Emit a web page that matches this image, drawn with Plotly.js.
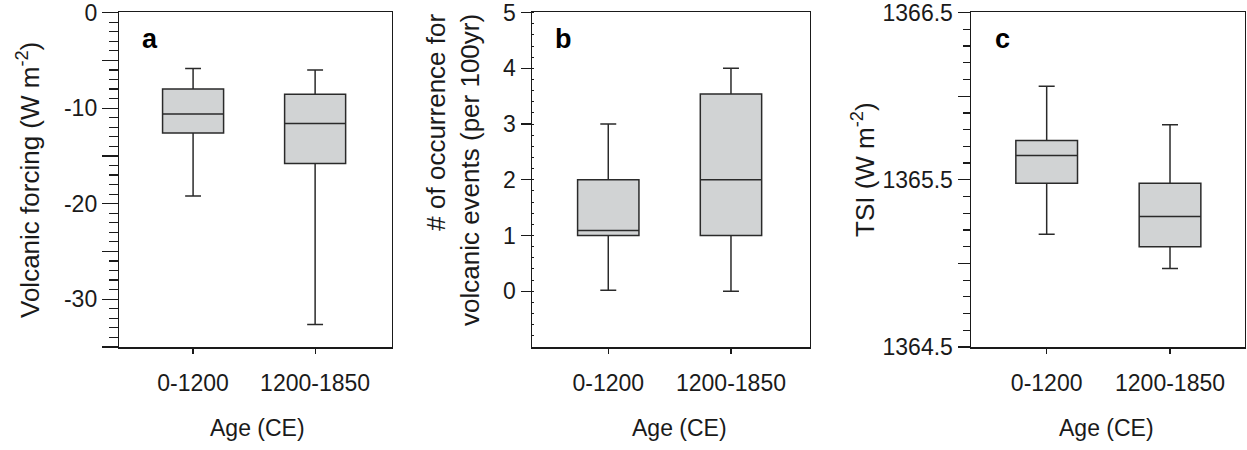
<!DOCTYPE html>
<html>
<head>
<meta charset="utf-8">
<script src="https://cdn.plot.ly/plotly-3.0.1.min.js"></script>
<style>html,body{margin:0;padding:0;background:#fff;}#chart{width:1247px;height:450px;}</style>
</head>
<body>
<div id="chart"></div>
<script>
// ---- data ----
const categories = ['0-1200', '1200-1850'];

// panel a: volcanic forcing (W m-2)
const forcingLower  = [-19.2, -32.65];
const forcingQ1     = [-12.6, -15.8];
const forcingMedian = [-10.6, -11.6];
const forcingQ3     = [-8.0, -8.55];
const forcingUpper  = [-5.85, -6.0];

// panel b: # of occurrence for volcanic events (per 100yr)
const eventsLower  = [0.02, 0];
const eventsQ1     = [1.0, 1.0];
const eventsMedian = [1.09, 2.0];
const eventsQ3     = [2.0, 3.54];
const eventsUpper  = [3.0, 4.0];

// panel c: TSI (W m-2)
const tsiLower  = [1365.175, 1364.97];
const tsiQ1     = [1365.48, 1365.10];
const tsiMedian = [1365.645, 1365.28];
const tsiQ3     = [1365.735, 1365.48];
const tsiUpper  = [1366.06, 1365.83];

// tick labels
const forcingTickVals = [0, -5, -10, -15, -20, -25, -30, -35];
const forcingTickText = ['0', '', '-10', '', '-20', '', '-30', ''];
const eventsTickVals = [0, 1, 2, 3, 4, 5];
const eventsTickText = ['0', '1', '2', '3', '4', '5'];
const tsiTickVals = [1364.5, 1365.0, 1365.5, 1366.0, 1366.5];
const tsiTickText = ['1364.5', '', '1365.5', '', '1366.5'];

const panelLetters = ['a', 'b', 'c'];
const xTitle = 'Age (CE)';
const yTitles = [
  'Volcanic forcing (W m<sup>-2</sup>)',
  '# of occurrence for<br>volcanic events (per 100yr)',
  'TSI (W m<sup>-2</sup>)'
];

// ---- drawing ----
const W = 1247, H = 450;
const FONT = 'Liberation Sans, Arial, Helvetica, sans-serif';
const INK = '#1a1a1a';
const positions = categories.map((c, i) => i);

function boxTrace(xa, ya, lo, q1, med, q3, hi) {
  return {
    type: 'box', xaxis: xa, yaxis: ya,
    x: positions, lowerfence: lo, q1: q1, median: med, q3: q3, upperfence: hi,
    width: 0.5, whiskerwidth: 0.26,
    fillcolor: '#d1d3d4',
    line: {color: '#2a2a2a', width: 1.5},
    showlegend: false, hoverinfo: 'skip'
  };
}

const data = [
  boxTrace('x', 'y', forcingLower, forcingQ1, forcingMedian, forcingQ3, forcingUpper),
  boxTrace('x2', 'y2', eventsLower, eventsQ1, eventsMedian, eventsQ3, eventsUpper),
  boxTrace('x3', 'y3', tsiLower, tsiQ1, tsiMedian, tsiQ3, tsiUpper)
];

const yDom = [1 - 347.3 / H, 1 - 12.3 / H];
const px = v => v / W;

function xAxis(dom, rng) {
  return {
    domain: dom, range: rng, type: 'linear',
    tickmode: 'array', tickvals: positions, ticktext: categories,
    ticks: 'outside', ticklen: 5, tickwidth: 1.2, tickcolor: INK,
    showline: true, mirror: true, linecolor: INK, linewidth: 1.2,
    showgrid: false, zeroline: false, fixedrange: true,
    ticklabelstandoff: 10, ticklabeloverflow: 'allow',
    tickfont: {family: FONT, size: 23, color: INK}
  };
}
function yAxis(anchor, rng, vals, text, len, minor) {
  return {
    domain: yDom, anchor: anchor, range: rng, type: 'linear',
    tickmode: 'array', tickvals: vals, ticktext: text,
    ticks: 'outside', ticklen: len, tickwidth: 1.2, tickcolor: INK,
    showline: true, mirror: true, linecolor: INK, linewidth: 1.2,
    showgrid: false, zeroline: false, fixedrange: true,
    ticklabeloverflow: 'allow',
    tickfont: {family: FONT, size: 23, color: INK},
    minor: minor
  };
}

const layout = {
  width: W, height: H,
  margin: {l: 0, r: 0, t: 0, b: 0, pad: 0},
  paper_bgcolor: '#ffffff', plot_bgcolor: '#ffffff',
  showlegend: false,
  xaxis: Object.assign(xAxis([px(119), px(392)], [-0.607, 1.63]), {anchor: 'y'}),
  yaxis: yAxis('x', [-35.04, 0.04], forcingTickVals, forcingTickText, 16,
    {tickmode: 'linear', tick0: 0, dtick: 1, ticks: 'outside', ticklen: 9, tickwidth: 1.2, tickcolor: INK}),
  xaxis2: Object.assign(xAxis([px(531.7), px(810)], [-0.624, 1.644]), {anchor: 'y2'}),
  yaxis2: yAxis('x2', [-1.005, 5.005], eventsTickVals, eventsTickText, 10,
    {tickmode: 'linear', tick0: 0, dtick: 0.2, ticks: 'inside', ticklen: 2, tickwidth: 1, tickcolor: INK}),
  xaxis3: Object.assign(xAxis([px(970.7), px(1245)], [-0.616, 1.608]), {anchor: 'y3'}),
  yaxis3: yAxis('x3', [1364.498, 1366.502], tsiTickVals, tsiTickText, 12,
    {tickmode: 'linear', tick0: 1364.5, dtick: 0.1, ticks: 'outside', ticklen: 7, tickwidth: 1.2, tickcolor: INK}),
  annotations: []
};

const letterX = [140, 553, 993];
const xTitleX = [257, 679, 1106];
const yTitleX = [28, 453, 863];
const yTitleY = [180, 170, 170];
for (let i = 0; i < 3; i++) {
  layout.annotations.push({
    text: '<b>' + panelLetters[i] + '</b>', xref: 'paper', yref: 'paper',
    x: px(letterX[i]), y: 1 - 39 / H, xanchor: 'left', yanchor: 'middle',
    showarrow: false, font: {family: FONT, size: 27, color: '#000'}
  });
  layout.annotations.push({
    text: xTitle, xref: 'paper', yref: 'paper',
    x: px(xTitleX[i]), y: 1 - 428 / H, xanchor: 'center', yanchor: 'middle',
    showarrow: false, font: {family: FONT, size: 23, color: INK}
  });
  layout.annotations.push({
    text: yTitles[i], xref: 'paper', yref: 'paper',
    x: px(yTitleX[i]), y: 1 - yTitleY[i] / H, xanchor: 'center', yanchor: 'middle',
    textangle: -90, align: 'right',
    showarrow: false, font: {family: FONT, size: 26, color: INK}
  });
}

Plotly.newPlot('chart', data, layout, {staticPlot: true, displayModeBar: false});
</script>
</body>
</html>
